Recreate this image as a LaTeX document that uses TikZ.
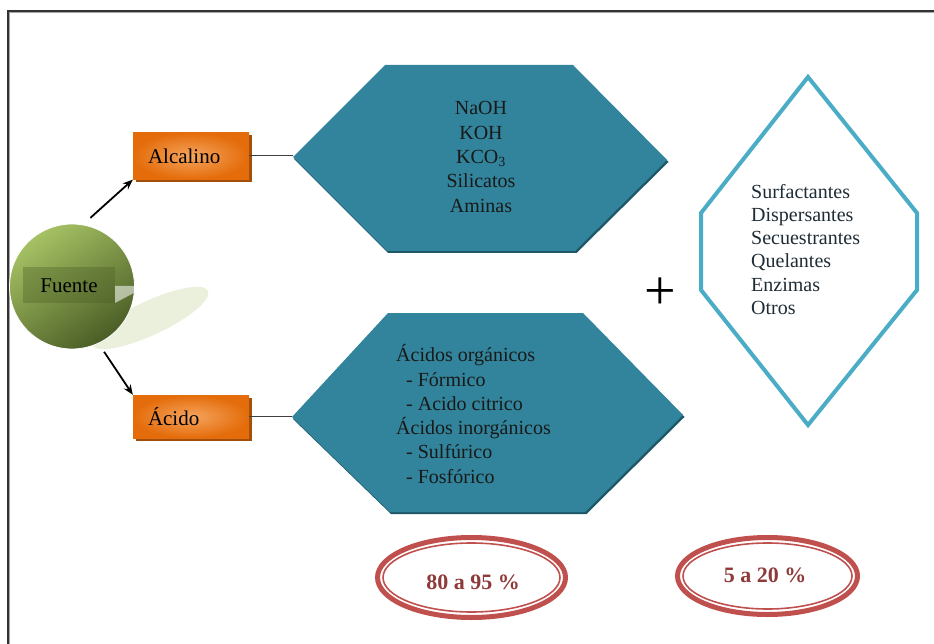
\documentclass[tikz,border=0pt]{standalone}
\usepackage{fontspec}
\setmainfont{LiberationSerif}[Extension=.ttf, UprightFont=*-Regular, BoldFont=*-Bold, ItalicFont=*-Italic, BoldItalicFont=*-BoldItalic]
\usetikzlibrary{arrows.meta,shadows}

\definecolor{tealfill}{HTML}{31849B}
\definecolor{tealshadow}{HTML}{1E5868}
\definecolor{aqua}{HTML}{4BACC6}
\definecolor{orangeA}{HTML}{E46C0A}
\definecolor{orangeB}{HTML}{F5A45E}
\definecolor{orangeShadow}{HTML}{A24F0C}
\definecolor{olivelight}{HTML}{A6C264}
\definecolor{olivedark}{HTML}{4A5D25}
\definecolor{paleolive}{HTML}{EAF0DC}
\definecolor{ringred}{HTML}{C0504D}
\definecolor{pcttext}{HTML}{8E3A38}
\definecolor{listtext}{HTML}{1E2C36}

\begin{document}
\begin{tikzpicture}[x=1pt,y=-1pt,
  body/.style={font=\fontsize{20}{24.3}\selectfont, inner sep=0pt, text=black!90},
  obox/.style={rectangle, shade, inner color=orangeB, outer color=orangeA,
    drop shadow={shadow xshift=3pt, shadow yshift=-3pt, fill=orangeShadow, opacity=1},
    minimum width=116pt, text width=86pt, inner xsep=15pt, align=left,
    font=\fontsize{21}{24}\selectfont},
  hexfill/.style={fill=tealfill},
  hexshade/.style={fill=tealshadow},
  conn/.style={draw=black!75, line width=1pt},
  arrow/.style={draw=black, line width=1.8pt, -{Stealth[length=10pt,width=8pt]}},
  ringthick/.style={draw=ringred, line width=5pt},
  ringthin/.style={draw=ringred, line width=1.6pt},
  pct/.style={font=\bfseries\fontsize{22}{24}\selectfont, text=pcttext},
]
\useasboundingbox (0,0) rectangle (934,644);

% outer frame (top and left edges)
\draw[line width=1.6pt, black!80] (934,11) -- (8,11) -- (8,644);
\draw[line width=0.8pt, black!35] (934,12.6) -- (9.6,12.6) -- (9.6,644);

% source sphere with its soft reflection
\fill[paleolive, shift={(150,318)}, rotate=25] (0,0) ellipse (64 and 17);
\node[circle, minimum size=125pt, inner sep=0pt, draw=white, line width=0.8pt,
  top color=olivelight, bottom color=olivedark, shading angle=35] (fuente) at (72,286.5) {};
\fill[olivedark, opacity=0.35] (23,267) rectangle (115,303);
\fill[white, opacity=0.55] (115,286) -- (147,286) -- (115,303) -- cycle;
\node[font=\fontsize{21}{24}\selectfont] (fuentelbl) at (69,286) {Fuente};

% the two families of products
\node[obox, minimum height=47pt] (alc) at (191,156) {Alcalino};
\node[obox, minimum height=43pt] (acid) at (191,416.5) {Ácido};

\draw[arrow, shorten <=10pt] (fuente.80) -- (alc.south west);
\draw[arrow, shorten <=10pt] (fuente.-65) -- (acid.north west);

% upper hexagon (alkaline list)
\coordinate (hexAtip) at (293,157);
\fill[hexshade] (294,159) -- (386,67) -- (574,67) -- (668.5,162) -- (576.5,253) -- (388,253) -- cycle;
\fill[hexfill] (hexAtip) -- (385,65) -- (573,65) -- (667,160) -- (575,251) -- (387,251) -- cycle;
\node[body, align=center] (alclist) at (481,157)
  {NaOH\\KOH\\KCO\textsubscript{3}\\Silicatos\\Aminas};

% lower hexagon (acid list)
\coordinate (hexBtip) at (292,417);
\fill[hexshade] (293,419) -- (389,315) -- (584,315) -- (684.5,417) -- (586.5,514) -- (391,514) -- cycle;
\fill[hexfill] (hexBtip) -- (388,313) -- (583,313) -- (683,415) -- (585,512) -- (390,512) -- cycle;
\node[body, align=left, anchor=west] (acidlist) at (396,414)
  {Ácidos orgánicos\\
   \hspace*{10pt}- Fórmico\\
   \hspace*{10pt}- Acido citrico\\
   Ácidos inorgánicos\\
   \hspace*{10pt}- Sulfúrico\\
   \hspace*{10pt}- Fosfórico};

\draw[conn] (alc.east) -- (alc.east -| hexAtip);
\draw[conn] (acid.east) -- (acid.east -| hexBtip);

% additives
\node[font=\fontsize{56}{56}\selectfont] (plus) at (660,294) {+};
\draw[aqua, fill=white, line width=4pt, line join=miter]
  (808,77) -- (917,213) -- (917,290) -- (808,425) -- (701,290) -- (701,213) -- cycle;
\node[font=\fontsize{20}{23.1}\selectfont, inner sep=0pt, align=left, anchor=west,
  text=listtext] (addlist) at (751,249.5)
  {Surfactantes\\Dispersantes\\Secuestrantes\\Quelantes\\Enzimas\\Otros};

% proportions
\draw[ringthick] (471.5,577.5) ellipse (94 and 40);
\draw[ringthin] (471.5,577.5) ellipse (88.5 and 34.5);
\node[pct] (pctA) at (473,582) {80 a 95 \%};

\draw[ringthick] (767.5,576) ellipse (90 and 38.5);
\draw[ringthin] (767.5,576) ellipse (84.5 and 33);
\node[pct] (pctB) at (765,575) {5 a 20 \%};
\end{tikzpicture}
\end{document}
